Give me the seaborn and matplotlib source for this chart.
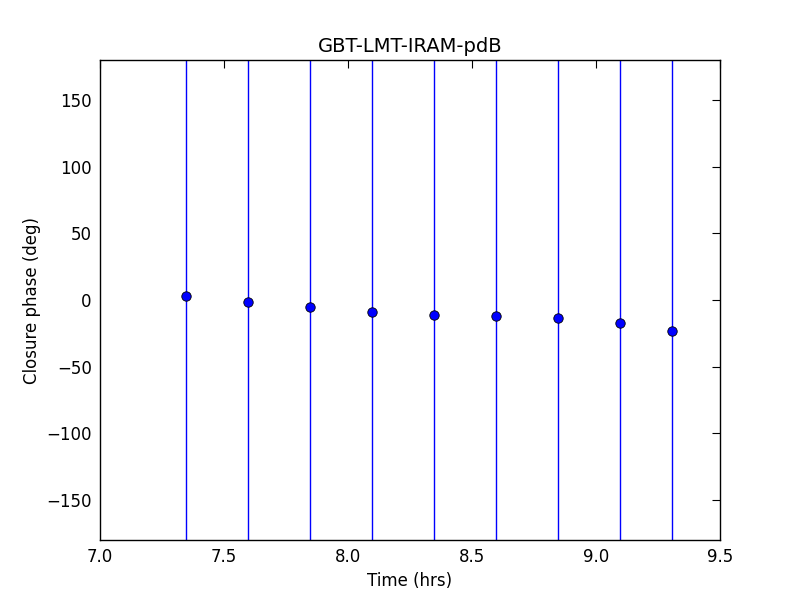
import matplotlib
matplotlib.use("Agg")
import matplotlib.pyplot as plt
import seaborn as sns
import pandas as pd

time_hrs = [7.347, 7.597, 7.848, 8.098, 8.348, 8.598, 8.848, 9.097, 9.308]
closure_phase = [3.0, -1.7, -5.2, -9.3, -11.2, -12.0, -13.7, -17.5, -23.3]
phase_err = [250, 250, 250, 250, 250, 250, 250, 250, 250]

df = pd.DataFrame({"t": time_hrs, "cp": closure_phase, "err": phase_err})

sns.set_style("white")
plt.rcParams["font.family"] = ["DejaVu Sans"]
plt.rcParams["text.color"] = "black"
plt.rcParams["axes.labelcolor"] = "black"
plt.rcParams["xtick.color"] = "black"
plt.rcParams["ytick.color"] = "black"

fig = plt.figure(figsize=(8, 6), dpi=100)
ax = fig.add_axes([0.125, 0.1, 0.775, 0.8])

ax.errorbar(df["t"], df["cp"], yerr=df["err"], fmt="none", ecolor="blue",
            elinewidth=1.0, zorder=2)
sns.scatterplot(data=df, x="t", y="cp", ax=ax, color="blue", edgecolor="black",
                linewidth=0.6, s=46, zorder=3, legend=False)

ax.set_xlim(7.0, 9.5)
ax.set_ylim(-180, 180)
ax.set_xticks([7.0, 7.5, 8.0, 8.5, 9.0, 9.5])
ax.set_xticklabels(["7.0", "7.5", "8.0", "8.5", "9.0", "9.5"])
ax.set_yticks([-150, -100, -50, 0, 50, 100, 150])
ax.tick_params(axis="both", which="both", direction="in", top=True, right=True,
               length=6, width=0.8, labelsize=12, pad=6, colors="black")
for s in ax.spines.values():
    s.set_color("black")
    s.set_linewidth(1.0)
ax.set_xlabel("Time (hrs)", fontsize=12, color="black")
ax.set_ylabel("Closure phase (deg)", fontsize=12, color="black")
ax.set_title("GBT-LMT-IRAM-pdB", fontsize=14, color="black")

fig.savefig("out.png", dpi=100)
